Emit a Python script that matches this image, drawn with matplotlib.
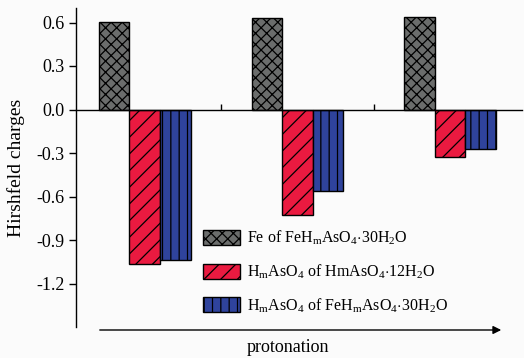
import numpy as np
import matplotlib
matplotlib.use('Agg')
import matplotlib.pyplot as plt

plt.rcParams['font.family'] = ['Liberation Serif', 'DejaVu Serif']
plt.rcParams['mathtext.fontset'] = 'custom'
plt.rcParams['mathtext.rm'] = 'Liberation Serif'
plt.rcParams['mathtext.it'] = 'Liberation Serif:italic'
plt.rcParams['hatch.linewidth'] = 0.9

# data
groups = [1, 2, 3]
fe_charge = [0.605, 0.632, 0.639]
hmaso4_12w = [-1.064, -0.731, -0.329]
hmaso4_fe = [-1.039, -0.559, -0.271]

series_labels = [
    r'Fe of FeH$_\mathrm{m}$AsO$_4$$\cdot$30H$_2$O',
    r'H$_\mathrm{m}$AsO$_4$ of HmAsO$_4$$\cdot$12H$_2$O',
    r'H$_\mathrm{m}$AsO$_4$ of FeH$_\mathrm{m}$AsO$_4$$\cdot$30H$_2$O',
]
y_ticks = [0.6, 0.3, 0.0, -0.3, -0.6, -0.9, -1.2]

fig = plt.figure(figsize=(5.24, 3.58), dpi=100)
fig.patch.set_facecolor('#fbfbfb')
ax = fig.add_axes([76 / 524, 1 - 327 / 358, 446 / 524, 319 / 358])
ax.set_facecolor('#fbfbfb')

x = np.array(groups, dtype=float)
w = 0.2
ax.bar(x - w, fe_charge, w, color='#6b6d6c', edgecolor='black', linewidth=1.0,
       hatch='xxx', label=series_labels[0])
ax.bar(x, hmaso4_12w, w, color='#ea1a40', edgecolor='black', linewidth=1.0,
       hatch='//', label=series_labels[1])
ax.bar(x + w, hmaso4_fe, w, color='#2f439c', edgecolor='black', linewidth=1.0,
       hatch='||', label=series_labels[2])

ax.set_xlim(0.55, 3.47)
ax.set_ylim(-1.5, 0.7)
ax.set_yticks(y_ticks)
ax.set_yticklabels([f'{v:.1f}' for v in y_ticks])

# x axis sits on zero, y axis on the left only
ax.spines['top'].set_visible(False)
ax.spines['right'].set_visible(False)
ax.spines['bottom'].set_position(('data', 0))
ax.spines['left'].set_linewidth(1.0)
ax.spines['bottom'].set_linewidth(1.0)
ax.set_xticks([1.5, 2.5])
ax.set_xticklabels([])
ax.tick_params(axis='x', direction='in', length=4, width=1)
ax.tick_params(axis='y', direction='out', length=5, width=1, labelsize=13, pad=3)

ax.set_ylabel('Hirshfeld charges', fontsize=14, labelpad=8)

leg = ax.legend(loc='upper left', bbox_to_anchor=(0.252, 0.352), frameon=False,
                fontsize=11.5, handlelength=2.3, handleheight=1.05,
                labelspacing=0.95, handletextpad=0.5)

# protonation arrow under the plot
fig.add_artist(matplotlib.patches.FancyArrowPatch(
    (97 / 524, 1 - 330 / 358), (504 / 524, 1 - 330 / 358),
    transform=fig.transFigure, arrowstyle='-|>', mutation_scale=12,
    color='black', linewidth=1.0))
fig.text(288 / 524, 1 - 347 / 358, 'protonation', ha='center', va='center',
         fontsize=13)

fig.savefig('out.png', dpi=100, facecolor=fig.get_facecolor())
